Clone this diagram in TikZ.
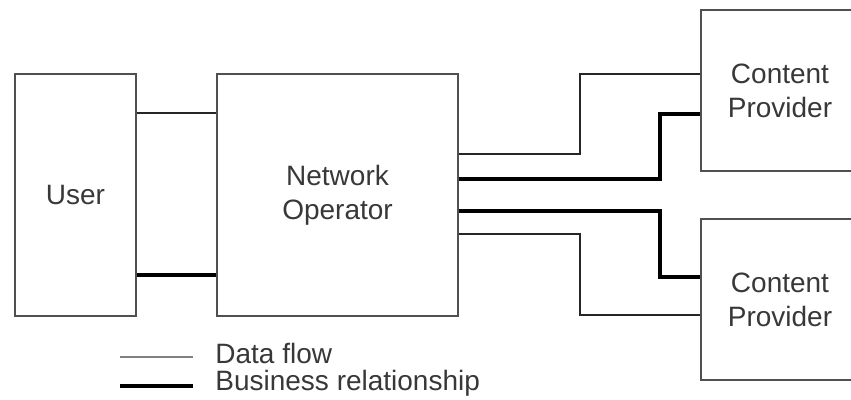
\documentclass[tikz,border=0pt]{standalone}
\usepackage{fontspec}
\setmainfont{Liberation Sans}
\usepackage{tikz}
\usetikzlibrary{positioning,calc}
\definecolor{edge}{HTML}{505050}
\definecolor{ink}{HTML}{383838}
\tikzset{
  blk/.style={draw=edge,line width=1pt,align=center,inner sep=0pt,text=ink,font=\fontsize{14}{17}\selectfont},
  flow/.style={draw=black!85,line width=0.65pt},
  biz/.style={draw=black,line width=2pt},
  lbl/.style={anchor=west,inner sep=0pt,text=ink,font=\fontsize{14}{17}\selectfont},
}
\begin{document}
\begin{tikzpicture}[x=0.5pt,y=-0.5pt]
 \clip (0,0) rectangle (851,400);
 \node[blk,minimum width=60.5pt,minimum height=121pt] (user) at (75.5,195){User};
 \node[blk,minimum width=120.5pt,minimum height=121pt] (netop) at (337.5,195){Network\\Operator};
 \node[blk,minimum width=79pt,minimum height=80.5pt] (cpA) at (780,90.5){Content\\Provider};
 \node[blk,minimum width=79pt,minimum height=80.5pt] (cpB) at (780,299.5){Content\\Provider};
 % user <-> operator
 \draw[flow] (user.east |- 0,113) -- (netop.west |- 0,113);
 \draw[biz] (user.east |- 0,275) -- (netop.west |- 0,275);
 % operator <-> providers
 \draw[flow] (netop.east |- 0,154) -| (580,74) -- (cpA.west |- 0,74);
 \draw[biz] (netop.east |- 0,179) -| (660,114) -- (cpA.west |- 0,114);
 \draw[biz] (netop.east |- 0,211) -| (660,277) -- (cpB.west |- 0,277);
 \draw[flow] (netop.east |- 0,234) -| (580,315) -- (cpB.west |- 0,315);
 % legend
 \coordinate (f1) at (120,357); \coordinate (f2) at (193,357);
 \coordinate (b1) at (120,386); \coordinate (b2) at (193,386);
 \draw[flow,draw=gray,line width=1.2pt] (f1) -- (f2); \draw[biz] (b1) -- (b2);
 \node[lbl] (lflow) at (215,353){Data flow};
 \node[lbl] (lbiz) at (215,383){Business relationship};
\end{tikzpicture}
\end{document}
